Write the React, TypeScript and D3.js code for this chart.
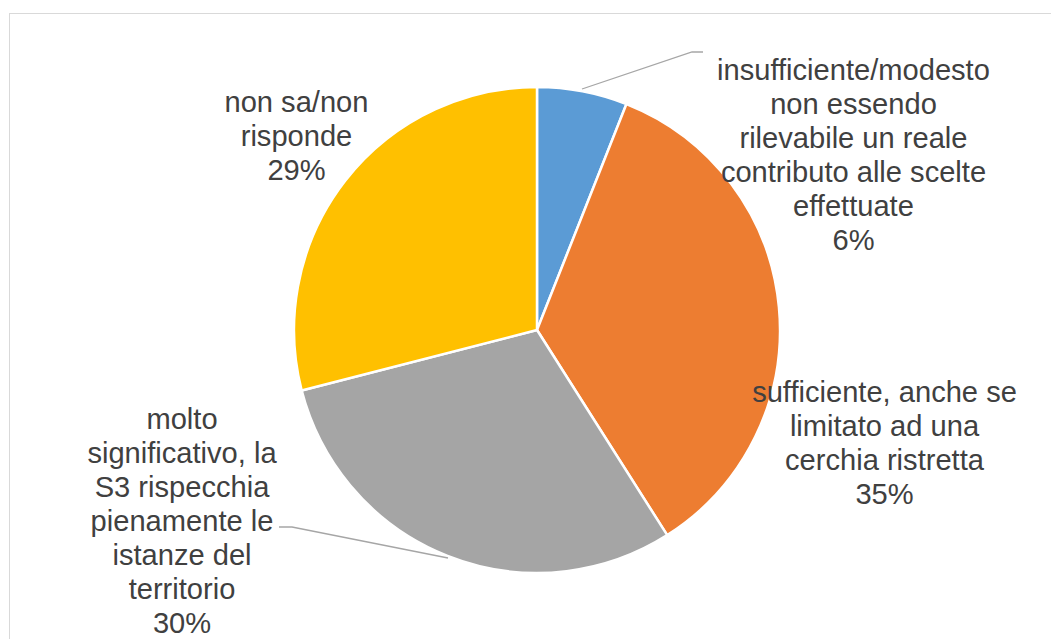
import React from "react";
import * as d3 from "d3";

const categories: string[][] = [
  ["insufficiente/modesto", "non essendo", "rilevabile un reale", "contributo alle scelte", "effettuate"],
  ["sufficiente, anche se", "limitato ad una", "cerchia ristretta"],
  ["molto", "significativo, la", "S3 rispecchia", "pienamente le", "istanze del", "territorio"],
  ["non sa/non", "risponde"],
];
const values: number[] = [6, 35, 30, 29];
const colors: string[] = ["#5B9BD5", "#ED7D31", "#A5A5A5", "#FFC000"];

// label layout (center x, first baseline y) and leader lines
const labelPos = [
  { x: 853.5, y: 80 },
  { x: 884.5, y: 402 },
  { x: 182, y: 429 },
  { x: 296.5, y: 112 },
];
const leaders: ([number, number][] | null)[] = [
  [[582, 89], [692, 52], [703, 52]],
  null,
  [[448, 558], [292, 527], [279, 527]],
  null,
];

export default function App() {
  const W = 1051, H = 639;
  const cx = 537, cy = 330, R = 243;
  const pie = d3.pie<number>().sort(null).value((d) => d).startAngle(0).endAngle(2 * Math.PI);
  const arcs = pie(values);
  const arc = d3.arc<d3.PieArcDatum<number>>().innerRadius(0).outerRadius(R);
  const total = d3.sum(values);
  const line = d3.line();
  const fs = 29.1, lh = 34;
  return (
    <svg width={W} height={H} style={{ position: "absolute", left: 0, top: 0, background: "#fff" }}>
      <rect x={9.5} y={13.5} width={1100} height={700} fill="#fff" stroke="#d9d9d9" strokeWidth={1} />
      <g transform={`translate(${cx},${cy})`}>
        {arcs.map((a, i) => (
          <path key={i} d={arc(a) || ""} fill={colors[i]} stroke="#fff" strokeWidth={2.5} strokeLinejoin="round" />
        ))}
      </g>
      {leaders.map((l, i) =>
        l ? <path key={i} d={line(l) || ""} fill="none" stroke="#A6A6A6" strokeWidth={1.3} /> : null
      )}
      {categories.map((lines, i) => {
        const all = [...lines, `${Math.round((values[i] / total) * 100)}%`];
        return (
          <text key={i} fill="#404040" fontFamily="'Liberation Sans', Arial, sans-serif" fontSize={fs} textAnchor="middle">
            {all.map((t, j) => (
              <tspan key={j} x={labelPos[i].x} y={labelPos[i].y + j * lh}>{t}</tspan>
            ))}
          </text>
        );
      })}
    </svg>
  );
}
